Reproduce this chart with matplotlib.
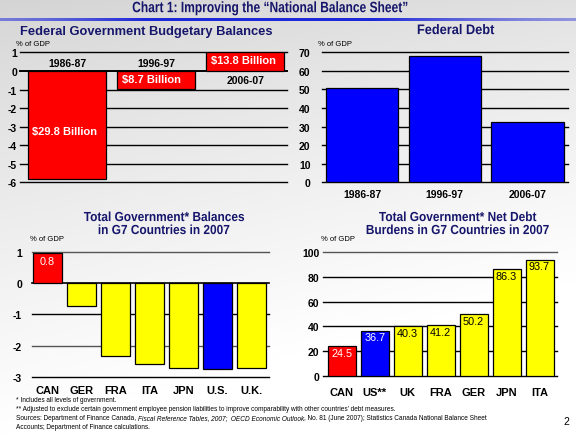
import numpy as np
import matplotlib
matplotlib.use("Agg")
import matplotlib.pyplot as plt
from matplotlib.textpath import TextPath
from matplotlib.patches import PathPatch
from matplotlib.transforms import Affine2D
from matplotlib.font_manager import FontProperties

# ---------------- data ----------------
fed_years = ["1986-87", "1996-97", "2006-07"]
fed_balance = [-5.8, -0.95, 1.0]
fed_balance_labels = ["$29.8 Billion", "$8.7 Billion", "$13.8 Billion"]
fed_balance_colors = ["#ff0000", "#ff0000", "#ff0000"]

fed_debt = [50.6, 67.9, 32.3]

g7_bal_countries = ["CAN", "GER", "FRA", "ITA", "JPN", "U.S.", "U.K."]
g7_balances = [0.95, -0.74, -2.34, -2.6, -2.72, -2.76, -2.72]
g7_bal_colors = ["#ff0000", "#ffff00", "#ffff00", "#ffff00", "#ffff00", "#0000ff", "#ffff00"]
g7_bal_label = "0.8"

g7_debt_countries = ["CAN", "US**", "UK", "FRA", "GER", "JPN", "ITA"]
g7_debt = [24.5, 36.7, 40.3, 41.2, 50.2, 86.3, 93.7]
g7_debt_colors = ["#ff0000", "#0000ff", "#ffff00", "#ffff00", "#ffff00", "#ffff00", "#ffff00"]
g7_debt_text_colors = ["white", "white", "black", "black", "black", "black", "black"]

W, H = 576, 435
NAVY = "#16166c"
SANS = "Liberation Sans"
plt.rcParams["font.family"] = [SANS, "DejaVu Sans"]

fig = plt.figure(figsize=(W / 100, H / 100), dpi=100)

# ---------------- background ----------------
bg = fig.add_axes([0, 0, 1, 1])
bg.set_xlim(0, W)
bg.set_ylim(H, 0)
bg.axis("off")
yy, xx = np.mgrid[0:H, 0:W]
val = 0.83 + 0.17 * (yy / H) ** 0.8 + 0.05 * (xx / W)
val = np.clip(val, 0, 1)
img = np.dstack([val, val, val])
bg.imshow(img, extent=(0, W, H, 0), aspect="auto", zorder=0)
xs = np.linspace(0, 1, W)
alpha = np.clip(0.35 + 0.9 * np.exp(-((xs - 0.45) / 0.35) ** 2), 0, 1)
strip = np.zeros((1, W, 4))
strip[..., 0] = 0.12
strip[..., 1] = 0.16
strip[..., 2] = 0.85
strip[..., 3] = alpha
bg.imshow(strip, extent=(0, W, 22, 19), aspect="auto", zorder=1)

BOLD = FontProperties(family=SANS, weight="bold")


def narrow_text(xc, yc, s, size, sx=0.8, color=NAVY):
    """Bold text horizontally compressed (narrow face), centred at pixel (xc, yc) on cap height."""
    k = 100 / 72
    tp = TextPath((0, 0), s, size=size, prop=BOLD)
    ref = TextPath((0, 0), "H", size=size, prop=BOLD).get_extents()
    ext = tp.get_extents()
    cx = (ext.x0 + ext.x1) / 2
    cy = (ref.y0 + ref.y1) / 2
    tr = Affine2D().translate(-cx, -cy).scale(sx * k, -k).translate(xc, yc)
    bg.add_patch(PathPatch(tr.transform_path(tp), facecolor=color, edgecolor="none", lw=0, zorder=5))


# main title
narrow_text(270, 8, "Chart 1: Improving the \u201cNational Balance Sheet\u201d", 10.8, sx=0.80)


def add_ax(x0, ytop, x1, ybot):
    return fig.add_axes([x0 / W, 1 - ybot / H, (x1 - x0) / W, (ybot - ytop) / H])


def clean(ax):
    for s in ax.spines.values():
        s.set_visible(False)
    ax.patch.set_alpha(0)
    ax.tick_params(axis="both", length=0)


# ---------------- chart 1: federal balances ----------------
ax1 = add_ax(20, 53.4, 287, 183.3)
clean(ax1)
ax1.set_ylim(-6, 1)
ax1.set_xlim(-0.53, 2.47)
for v in range(-6, 2):
    ax1.axhline(v, color="black", lw=1.0 if v != 0 else 1.4, zorder=1, clip_on=False)
x1 = np.arange(len(fed_years))
ax1.bar(x1, fed_balance, width=0.876, color=fed_balance_colors, edgecolor="black", lw=0.9, zorder=2)
ax1.set_xticks([])
ax1.set_yticks(range(-6, 2))
ax1.set_yticklabels([str(v) for v in range(-6, 2)], fontsize=7.5, fontweight="bold")
ax1.tick_params(axis="y", pad=2)
cat_y = [0.43, 0.43, -0.5]
for i, (lab, yv) in enumerate(zip(fed_years, cat_y)):
    ax1.text(i, yv, lab, ha="center", va="center", fontsize=7.5, fontweight="bold", zorder=3)
val_y = [-3.25, -0.45, 0.6]
val_x = [-0.03, -0.05, -0.02]
for i, (lab, yv) in enumerate(zip(fed_balance_labels, val_y)):
    ax1.text(i + val_x[i], yv, lab, ha="center", va="center", fontsize=8, fontweight="bold",
             color="white", zorder=3)
fig.text(146 / W, 1 - 31.5 / H, "Federal Government Budgetary Balances", ha="center", va="center",
         fontsize=9.3, fontweight="bold", color=NAVY)
fig.text(16 / W, 1 - 44 / H, "% of GDP", ha="left", va="center", fontsize=5.5)

# ---------------- chart 2: federal debt ----------------
ax2 = add_ax(321.7, 53.3, 568, 183.3)
clean(ax2)
ax2.set_ylim(0, 70)
ax2.set_xlim(-0.49, 2.49)
for v in range(0, 80, 10):
    ax2.axhline(v, color="black", lw=1.0, zorder=1, clip_on=False)
x2 = np.arange(len(fed_years))
ax2.bar(x2, fed_debt, width=0.877, color="#0000ff", edgecolor="black", lw=0.9, zorder=2)
ax2.set_yticks(range(0, 80, 10))
ax2.set_yticklabels([str(v) for v in range(0, 80, 10)], fontsize=7.5, fontweight="bold")
ax2.set_xticks(x2)
ax2.set_xticklabels(fed_years, fontsize=7.5, fontweight="bold")
ax2.tick_params(axis="x", pad=5)
ax2.tick_params(axis="y", pad=8)
narrow_text(456, 30.3, "Federal Debt", 10, sx=0.92)
fig.text(318 / W, 1 - 44 / H, "% of GDP", ha="left", va="center", fontsize=5.5)

# ---------------- chart 3: G7 balances ----------------
ax3 = add_ax(31.7, 252.7, 269, 378)
clean(ax3)
ax3.set_ylim(-3, 1)
ax3.set_xlim(-0.46, 6.51)
for v in range(-3, 2):
    ax3.axhline(v, color="#555555" if v in (1, -2) else "black", lw=1.2 if v == 0 else 1.0,
                zorder=1, clip_on=False)
x3 = np.arange(len(g7_bal_countries))
ax3.bar(x3, g7_balances, width=0.84, color=g7_bal_colors, edgecolor="black", lw=0.9, zorder=2)
ax3.text(0, g7_balances[0] - 0.08, g7_bal_label, ha="center", va="top", fontsize=7.8,
         color="white", zorder=3)
ax3.set_yticks(range(-3, 2))
ax3.set_yticklabels([str(v) for v in range(-3, 2)], fontsize=7.5, fontweight="bold")
ax3.set_xticks(x3)
ax3.set_xticklabels(g7_bal_countries, fontsize=8, fontweight="bold")
ax3.tick_params(axis="x", pad=6)
ax3.tick_params(axis="y", pad=7)
narrow_text(164, 217.5, "Total Government* Balances", 9.5, sx=0.9)
narrow_text(164, 230.5, "in G7 Countries in 2007", 9.5, sx=0.9)
fig.text(30 / W, 1 - 240 / H, "% of GDP", ha="left", va="center", fontsize=5.5)

# ---------------- chart 4: G7 net debt ----------------
ax4 = add_ax(323.3, 252.7, 556.7, 377.3)
clean(ax4)
ax4.set_ylim(0, 100)
ax4.set_xlim(-0.56, 6.52)
for v in range(0, 120, 20):
    ax4.axhline(v, color="#555555" if v == 100 else "black", lw=1.0, zorder=1, clip_on=False)
x4 = np.arange(len(g7_debt_countries))
ax4.bar(x4, g7_debt, width=0.85, color=g7_debt_colors, edgecolor="black", lw=0.9, zorder=2)
for i, v in enumerate(g7_debt):
    ax4.text(i, v - 1.5, f"{v:.1f}", ha="center", va="top", fontsize=7.8,
             color=g7_debt_text_colors[i], zorder=3)
ax4.set_yticks(range(0, 120, 20))
ax4.set_yticklabels([str(v) for v in range(0, 120, 20)], fontsize=7.5, fontweight="bold")
ax4.set_xticks(x4)
ax4.set_xticklabels(g7_debt_countries, fontsize=8, fontweight="bold")
ax4.tick_params(axis="x", pad=8)
ax4.tick_params(axis="y", pad=3)
narrow_text(457.7, 217.5, "Total Government* Net Debt", 9.5, sx=0.9)
narrow_text(457.7, 230.5, "Burdens in G7 Countries in 2007", 9.5, sx=0.9)
fig.text(320.7 / W, 1 - 240 / H, "% of GDP", ha="left", va="center", fontsize=5.5)

# ---------------- footnotes ----------------
FN = 4.7
fig.text(16 / W, 1 - 401 / H, "* Includes all levels of government.", fontsize=FN, va="center")
fig.text(16 / W, 1 - 410 / H,
         "** Adjusted to exclude certain government employee pension liabilities to improve "
         "comparability with other countries\u2019 debt measures.", fontsize=FN, va="center")
renderer = fig.canvas.get_renderer()
segments = [
    ("Sources: Department of Finance Canada, ", "normal"),
    ("Fiscal Reference Tables, 2007;  OECD Economic Outlook", "italic"),
    (", No. 81 (June 2007); Statistics Canada National Balance Sheet", "normal"),
]
xpos = 16 / W
for txt, style in segments:
    t = fig.text(xpos, 1 - 419 / H, txt, fontsize=FN, va="center", style=style)
    bb = t.get_window_extent(renderer=renderer)
    xpos += bb.width / W
fig.text(16 / W, 1 - 428 / H, "Accounts; Department of Finance calculations.", fontsize=FN, va="center")
fig.text(566 / W, 1 - 422 / H, "2", fontsize=7.5, ha="center", va="center")

fig.savefig("out.png", dpi=100)
